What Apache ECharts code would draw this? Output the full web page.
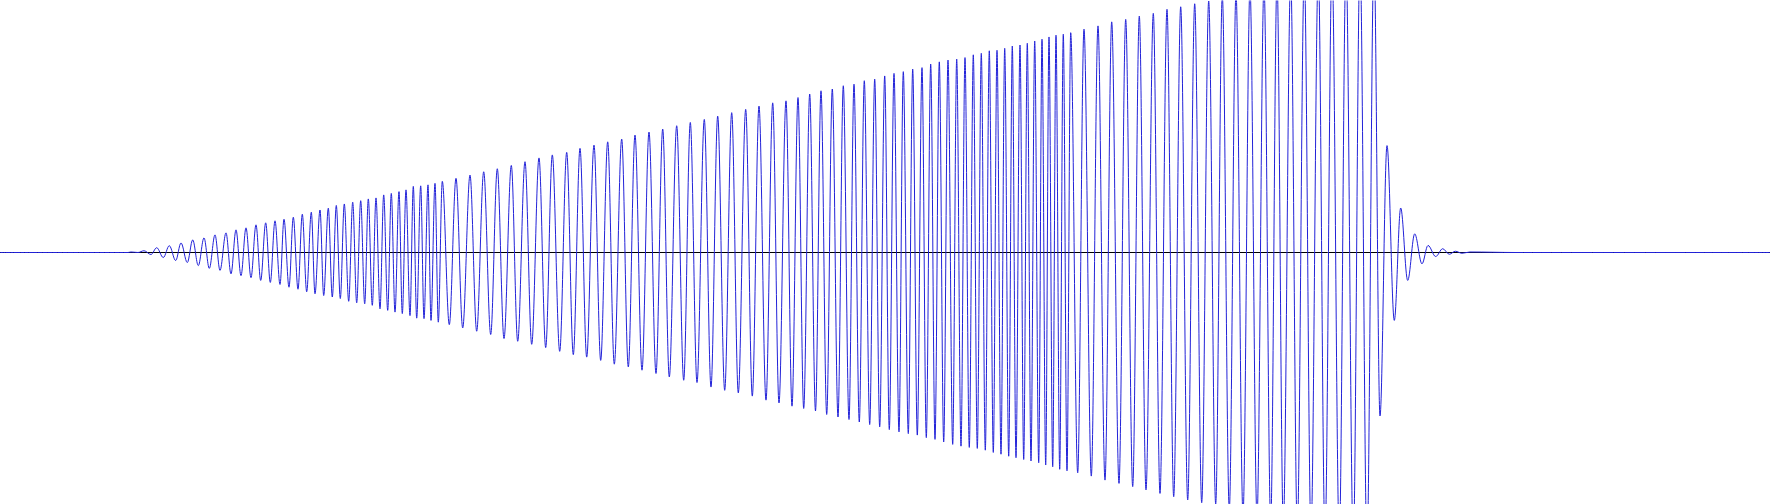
<!DOCTYPE html>
<html>
<head>
<meta charset="utf-8">
<script src="https://cdn.jsdelivr.net/npm/echarts@6/dist/echarts.min.js"></script>
<style>
html,body{margin:0;padding:0;background:#fff;}
#chart{width:1770px;height:504px;}
</style>
</head>
<body>
<div id="chart"></div>
<script>
// Extrema of the waveform (time in samples, amplitude normalised to the axis range -1..1)
const sampleTimes = [
  0, 128, 131, 138, 144, 151, 156.7, 163.3, 169.3, 175.7, 181, 187.3, 192.7, 198.3, 204, 209.3,
  215, 220, 226, 231, 236, 241, 246, 251, 256, 260.7, 265.7, 270.3, 275, 280, 284, 289,
  293.3, 298, 302.3, 306.7, 311.3, 315, 320, 323.7, 328.3, 332.3, 336.3, 340.3, 344.3, 348.7, 352.7, 356.7,
  360.7, 364.7, 368.3, 372.3, 376, 380, 383.7, 387.7, 391.3, 395, 399, 402.3, 406, 410, 413.3, 416.7,
  420.7, 424, 428, 431, 435, 438.3, 442.3, 449.3, 456, 462.7, 470, 476.7, 483.7, 490.7, 497.3, 504,
  511.3, 517.7, 525, 531.7, 539, 545.7, 552.3, 559.7, 566.7, 573.3, 580, 586.7,
  594, 600.7, 607.7, 614.3, 621.7, 628.3, 635, 642, 649, 656, 662.7, 669.3, 676.7, 683.7, 690.3, 697,
  704.3, 711, 717.7, 724.7, 731.7, 738.3, 745.7, 752.3, 759, 766, 772.7, 779, 786, 792, 798, 803.7, 809.7, 815.5,
  821, 826.7, 832.3, 838, 843.3, 849, 854, 859.3, 864.3, 869.7, 874.7, 879.7, 884.7, 889.3, 894, 899,
  903.3, 908.3, 912.7, 917.3, 922, 926.3, 930.7, 935, 939.3, 943.7, 948, 952.7, 956.7, 961, 965, 969.3,
  973.3, 977.3, 981.3, 985.3, 989.3, 993.3, 997, 1001, 1004.7, 1008.7, 1012.3, 1016, 1020, 1023.7, 1027.3, 1031,
  1034.7, 1038.7, 1042, 1045.7,
  1049, 1052.7, 1056, 1059.7, 1063.3, 1067, 1070.7, 1077.7, 1084, 1091.3, 1098, 1105, 1111.7, 1119, 1125.7, 1132.7,
  1139.3, 1146, 1153.3, 1160, 1167, 1173.7, 1180.7, 1187.7, 1194.7, 1201.7, 1208.7, 1215.7,
  1222.3, 1229.3, 1236, 1243, 1250, 1257, 1264, 1270.7, 1277, 1283.3, 1290.7, 1297.3, 1304.3, 1311, 1318.3, 1325,
  1332, 1339.3, 1346, 1353.3, 1360, 1367, 1374,
  1380, 1387, 1394.3, 1400.7, 1407.7, 1414.7, 1422, 1428, 1435.7, 1442.7, 1449.3, 1455.3, 1462, 1470, 1515, 1770
];
const amplitudes = [
  0, 0, 0.002, 0, 0.007, -0.008, 0.019, -0.020, 0.027, -0.032, 0.038, -0.040, 0.050, -0.052, 0.058, -0.063,
  0.070, -0.071, 0.078, -0.085, 0.090, -0.092, 0.098, -0.100, 0.110, -0.111, 0.118, -0.119, 0.126, -0.127, 0.132, -0.138,
  0.140, -0.146, 0.152, -0.156, 0.160, -0.164, 0.169, -0.171, 0.176, -0.177, 0.187, -0.183, 0.193, -0.194, 0.200, -0.200,
  0.206, -0.204, 0.213, -0.210, 0.217, -0.224, 0.229, -0.230, 0.235, -0.237, 0.242, -0.243, 0.249, -0.251, 0.263, -0.261,
  0.265, -0.263, 0.269, -0.270, 0.275, -0.277, 0.283, -0.287, 0.295, -0.300, 0.308, -0.313, 0.321, -0.326, 0.333, -0.342,
  0.346, -0.353, 0.361, -0.365, 0.376, -0.378, 0.388, -0.393, 0.398, -0.406, 0.414, -0.416,
  0.427, -0.429, 0.440, -0.444, 0.451, -0.455, 0.467, -0.468, 0.479, -0.481, 0.491, -0.495, 0.504, -0.508, 0.517, -0.517,
  0.529, -0.535, 0.542, -0.548, 0.556, -0.558, 0.569, -0.571, 0.582, -0.587, 0.595, -0.598, 0.603, -0.611, 0.616, -0.620, 0.630, -0.630,
  0.643, -0.644, 0.650, -0.654, 0.663, -0.664, 0.669, -0.674, 0.683, -0.684, 0.689, -0.693, 0.702, -0.704, 0.712, -0.713,
  0.719, -0.720, 0.729, -0.726, 0.735, -0.736, 0.749, -0.743, 0.758, -0.753, 0.765, -0.763, 0.769, -0.770, 0.775, -0.775,
  0.786, -0.779, 0.792, -0.786, 0.802, -0.795, 0.804, -0.802, 0.812, -0.810, 0.821, -0.816, 0.825, -0.823, 0.832, -0.829,
  0.841, -0.836, 0.848, -0.845,
  0.857, -0.852, 0.864, -0.862, 0.868, -0.868, 0.874, -0.876, 0.888, -0.889, 0.901, -0.905, 0.917, -0.918, 0.927, -0.931,
  0.940, -0.944, 0.951, -0.958, 0.967, -0.971, 0.977, -0.984, 0.989, -0.995, 1.0, -1.0,
  1.02, -1.02, 1.03, -1.04, 1.05, -1.05, 1.06, -1.07, 1.08, -1.08, 1.09, -1.10, 1.11, -1.11, 1.12, -1.13,
  1.14, -1.14, 1.15, -1.16, 1.17, -1.17, 1.18,
  -0.650, 0.425, -0.270, 0.177, -0.111, 0.074, -0.045, 0.028, -0.016, 0.015, -0.007, 0.005, -0.003, 0.002, 0, 0
];

const seriesData = sampleTimes.map((t, i) => [t, amplitudes[i]]);

const chart = echarts.init(document.getElementById('chart'), null, {renderer: 'canvas'});
chart.setOption({
  animation: false,
  backgroundColor: '#ffffff',
  grid: {left: 0, right: 0, top: 1, bottom: 0, containLabel: false},
  xAxis: {
    type: 'value', min: 0, max: 1770,
    axisLine: {show: true, onZero: true, lineStyle: {color: '#000000', width: 1}},
    axisTick: {show: false}, axisLabel: {show: false}, splitLine: {show: false}
  },
  yAxis: {
    type: 'value', min: -1, max: 1,
    axisLine: {show: false}, axisTick: {show: false}, axisLabel: {show: false}, splitLine: {show: false}
  },
  series: [{
    type: 'line',
    data: seriesData,
    showSymbol: false,
    symbol: 'none',
    smooth: 0.35,
    smoothMonotone: 'x',
    clip: true,
    lineStyle: {color: '#2222d8', width: 1}
  }]
});
</script>
</body>
</html>
